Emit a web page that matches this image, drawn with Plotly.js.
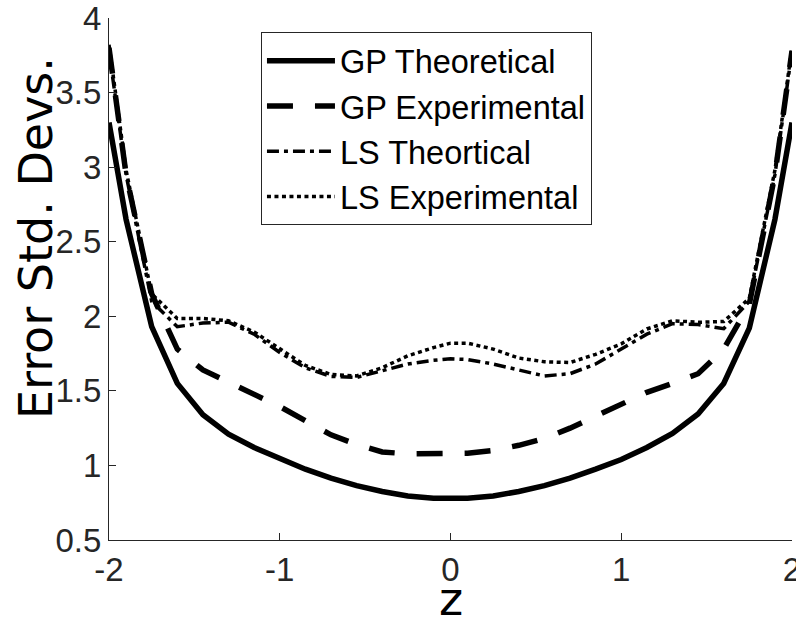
<!DOCTYPE html>
<html>
<head>
<meta charset="utf-8">
<script src="https://cdn.plot.ly/plotly-3.0.1.min.js"></script>
<style>html,body{margin:0;padding:0;background:#fff;}#chart{width:796px;height:618px;}</style>
</head>
<body>
<div id="chart"></div>
<script>
// Sample locations (z)
const z = [-2, -1.9, -1.75, -1.6, -1.45, -1.3, -1.15, -1.0, -0.85, -0.7, -0.55, -0.4, -0.25, -0.1, 0,
           0.1, 0.25, 0.4, 0.55, 0.7, 0.85, 1.0, 1.15, 1.3, 1.45, 1.6, 1.75, 1.9, 2];

const gpTheoretical = [3.30, 2.65, 1.93, 1.55, 1.34, 1.21, 1.12, 1.045, 0.975, 0.915, 0.865, 0.825, 0.795, 0.78, 0.777,
                       0.78, 0.795, 0.825, 0.865, 0.915, 0.975, 1.04, 1.12, 1.215, 1.345, 1.55, 1.92, 2.65, 3.30];

const gpExperimental = [3.80, 2.95, 2.15, 1.78, 1.64, 1.56, 1.48, 1.395, 1.30, 1.205, 1.14, 1.09, 1.078, 1.076, 1.078,
                        1.082, 1.10, 1.135, 1.18, 1.25, 1.33, 1.415, 1.49, 1.55, 1.615, 1.78, 2.08, 2.95, 3.78];

const lsTheoretical = [3.78, 2.95, 2.10, 1.93, 1.955, 1.96, 1.88, 1.757, 1.655, 1.597, 1.59, 1.636, 1.68, 1.705, 1.715,
                       1.71, 1.68, 1.64, 1.60, 1.615, 1.68, 1.78, 1.88, 1.95, 1.945, 1.917, 2.10, 2.95, 3.78];

const lsExperimental = [3.82, 2.98, 2.15, 1.985, 1.985, 1.97, 1.895, 1.78, 1.67, 1.61, 1.60, 1.655, 1.735, 1.79, 1.82,
                        1.82, 1.78, 1.72, 1.695, 1.69, 1.745, 1.815, 1.915, 1.97, 1.96, 1.965, 2.12, 2.98, 3.80];

const seriesNames = ['GP Theoretical', 'GP Experimental', 'LS Theortical', 'LS Experimental'];
const xTicks = [-2, -1, 0, 1, 2];
const yTicks = [0.5, 1, 1.5, 2, 2.5, 3, 3.5, 4];
const xLabel = 'z';
const yLabel = 'Error Std. Devs.';

const ink = '#000000';
const axisInk = '#262626';
const tickFontFamily = 'Liberation Sans, Arial, sans-serif';
const labelFontFamily = 'DejaVu Sans, sans-serif';

const traces = [
  {x: z, y: gpTheoretical, name: seriesNames[0], mode: 'lines',
   line: {color: ink, width: 5.5, dash: 'solid'}},
  {x: z, y: gpExperimental, name: seriesNames[1], mode: 'lines',
   line: {color: ink, width: 5.5, dash: '26px,22px'}},
  {x: z, y: lsTheoretical, name: seriesNames[2], mode: 'lines',
   line: {color: ink, width: 3.5, dash: '12px,5px,4px,5px'}},
  {x: z, y: lsExperimental, name: seriesNames[3], mode: 'lines',
   line: {color: ink, width: 3.5, dash: '4px,3.5px'}}
];

const layout = {
  width: 796, height: 618,
  margin: {l: 109, r: 4, t: 18, b: 78},
  paper_bgcolor: '#ffffff', plot_bgcolor: '#ffffff',
  showlegend: true,
  legend: {
    x: 0.2225, y: 0.973, xanchor: 'left', yanchor: 'top',
    bordercolor: axisInk, borderwidth: 1, bgcolor: '#ffffff',
    font: {family: tickFontFamily, size: 32.5, color: ink},
    itemwidth: 68, tracegroupgap: 0
  },
  xaxis: {
    range: [-2, 2], tickmode: 'array', tickvals: xTicks, ticktext: xTicks.map(String),
    ticks: 'inside', ticklen: 7, tickwidth: 1, tickcolor: axisInk,
    showline: true, linecolor: axisInk, linewidth: 1, mirror: false,
    showgrid: false, zeroline: false, ticklabeloverflow: 'allow',
    tickfont: {family: tickFontFamily, size: 33, color: axisInk}
  },
  yaxis: {
    range: [0.5, 4], tickmode: 'array', tickvals: yTicks, ticktext: yTicks.map(String),
    ticks: 'inside', ticklen: 7, tickwidth: 1, tickcolor: axisInk,
    showline: true, linecolor: axisInk, linewidth: 1, mirror: false,
    showgrid: false, zeroline: false, ticklabeloverflow: 'allow',
    tickfont: {family: tickFontFamily, size: 33, color: axisInk}
  },
  annotations: [
    {
      text: yLabel, textangle: -90, showarrow: false,
      xref: 'paper', yref: 'paper', x: -0.1069, y: 0.5785,
      xanchor: 'center', yanchor: 'middle',
      font: {family: labelFontFamily, size: 46, color: ink}
    },
    {
      text: xLabel, showarrow: false,
      xref: 'paper', yref: 'paper', x: 0.5, y: -0.113,
      xanchor: 'center', yanchor: 'middle',
      font: {family: labelFontFamily, size: 46, color: ink}
    }
  ]
};

Plotly.newPlot('chart', traces, layout, {staticPlot: true, displayModeBar: false});
</script>
</body>
</html>
